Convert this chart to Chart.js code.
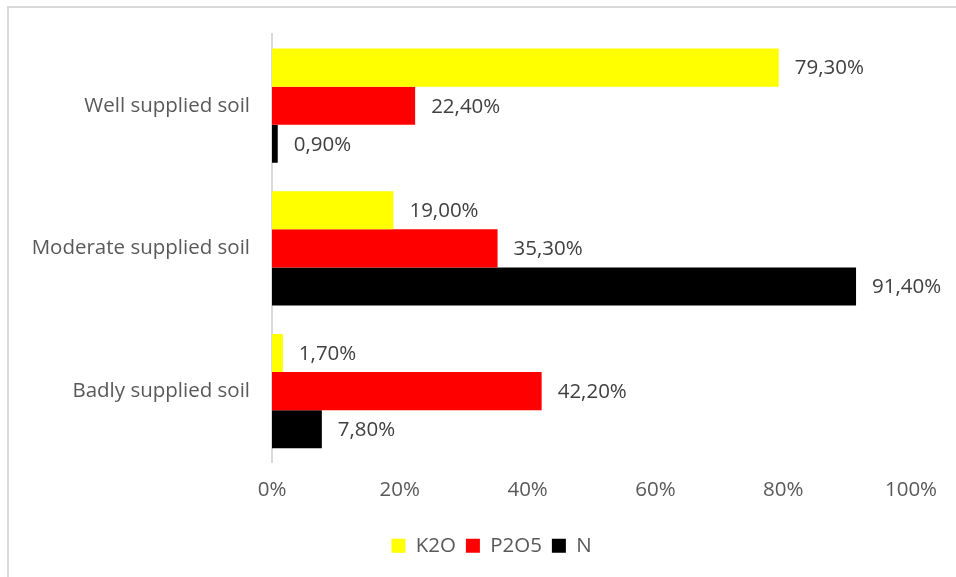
<!DOCTYPE html>
<html>
<head>
<meta charset="utf-8">
<script src="https://cdn.jsdelivr.net/npm/chart.js@4/dist/chart.umd.min.js"></script>
<style>
html,body{margin:0;padding:0;background:#fff;}
#wrap{width:956px;height:577px;position:relative;}
</style>
</head>
<body>
<div id="wrap"><canvas id="c" width="956" height="577"></canvas></div>
<script>
const categories = ["Well supplied soil", "Moderate supplied soil", "Badly supplied soil"];
const seriesNames = ["K2O", "P2O5", "N"];
const k2oValues = [79.3, 19.0, 1.7];
const p2o5Values = [22.4, 35.3, 42.2];
const nValues = [0.9, 91.4, 7.8];
const tickValues = [0, 20, 40, 60, 80, 100];

const FONT = "'Open Sans', sans-serif";
const TEXT = "#595959";
const FS = 20.5;
const LEGEND_SHIFT = 36;

const borderPlugin = {
  id: 'frame',
  beforeDraw(chart) {
    const ctx = chart.ctx;
    ctx.save();
    ctx.fillStyle = '#fff';
    ctx.fillRect(0, 0, chart.width, chart.height);
    ctx.strokeStyle = '#d9d9d9';
    ctx.lineWidth = 2;
    ctx.strokeRect(8, 7, 1200, 1000);
    ctx.restore();
  }
};

const legendShiftPlugin = {
  id: 'legendShift',
  afterLayout(chart) {
    const lg = chart.legend;
    if (lg) {
      lg.left += LEGEND_SHIFT;
      lg.right += LEGEND_SHIFT;
      if (lg.adjustHitBoxes) lg.adjustHitBoxes();
    }
  }
};

const labelPlugin = {
  id: 'valueLabels',
  afterDatasetsDraw(chart) {
    const ctx = chart.ctx;
    ctx.save();
    ctx.font = FS + "px " + FONT;
    ctx.fillStyle = "#404040";
    ctx.textAlign = 'left';
    ctx.textBaseline = 'middle';
    chart.data.datasets.forEach((ds, i) => {
      const meta = chart.getDatasetMeta(i);
      meta.data.forEach((bar, j) => {
        const v = ds.data[j];
        const txt = v.toFixed(2).replace('.', ',') + '%';
        ctx.fillText(txt, bar.x + 16, bar.y + 1);
      });
    });
    ctx.restore();
  }
};

new Chart(document.getElementById('c'), {
  type: 'bar',
  data: {
    labels: categories,
    datasets: [
      { label: seriesNames[0], data: k2oValues, backgroundColor: '#ffff00', borderWidth: 0 },
      { label: seriesNames[1], data: p2o5Values, backgroundColor: '#ff0000', borderWidth: 0 },
      { label: seriesNames[2], data: nValues, backgroundColor: '#000000', borderWidth: 0 }
    ]
  },
  options: {
    indexAxis: 'y',
    responsive: false,
    animation: false,
    devicePixelRatio: 1,
    categoryPercentage: 0.8,
    barPercentage: 1.0,
    layout: { padding: { top: 34, right: 45, bottom: 11, left: 0 } },
    scales: {
      x: {
        min: 0, max: 100,
        afterBuildTicks(scale) { scale.ticks = tickValues.map(v => ({ value: v })); },
        grid: { display: false, drawTicks: false },
        border: { display: false },
        ticks: {
          padding: 15,
          color: TEXT,
          font: { family: FONT, size: FS },
          callback: v => v + '%'
        },
        afterFit(scale) { scale.height = 63; }
      },
      y: {
        grid: { display: false, drawTicks: false },
        border: { display: true, color: '#d9d9d9', width: 2 },
        ticks: {
          padding: 22,
          color: TEXT,
          font: { family: FONT, size: FS }
        },
        afterFit(scale) { scale.width = 272; }
      }
    },
    plugins: {
      legend: {
        position: 'bottom',
        labels: {
          color: TEXT,
          font: { family: FONT, size: FS },
          boxWidth: 14,
          boxHeight: 14,
          padding: 10
        }
      },
      tooltip: { enabled: false }
    }
  },
  plugins: [borderPlugin, legendShiftPlugin, labelPlugin]
});
</script>
</body>
</html>
